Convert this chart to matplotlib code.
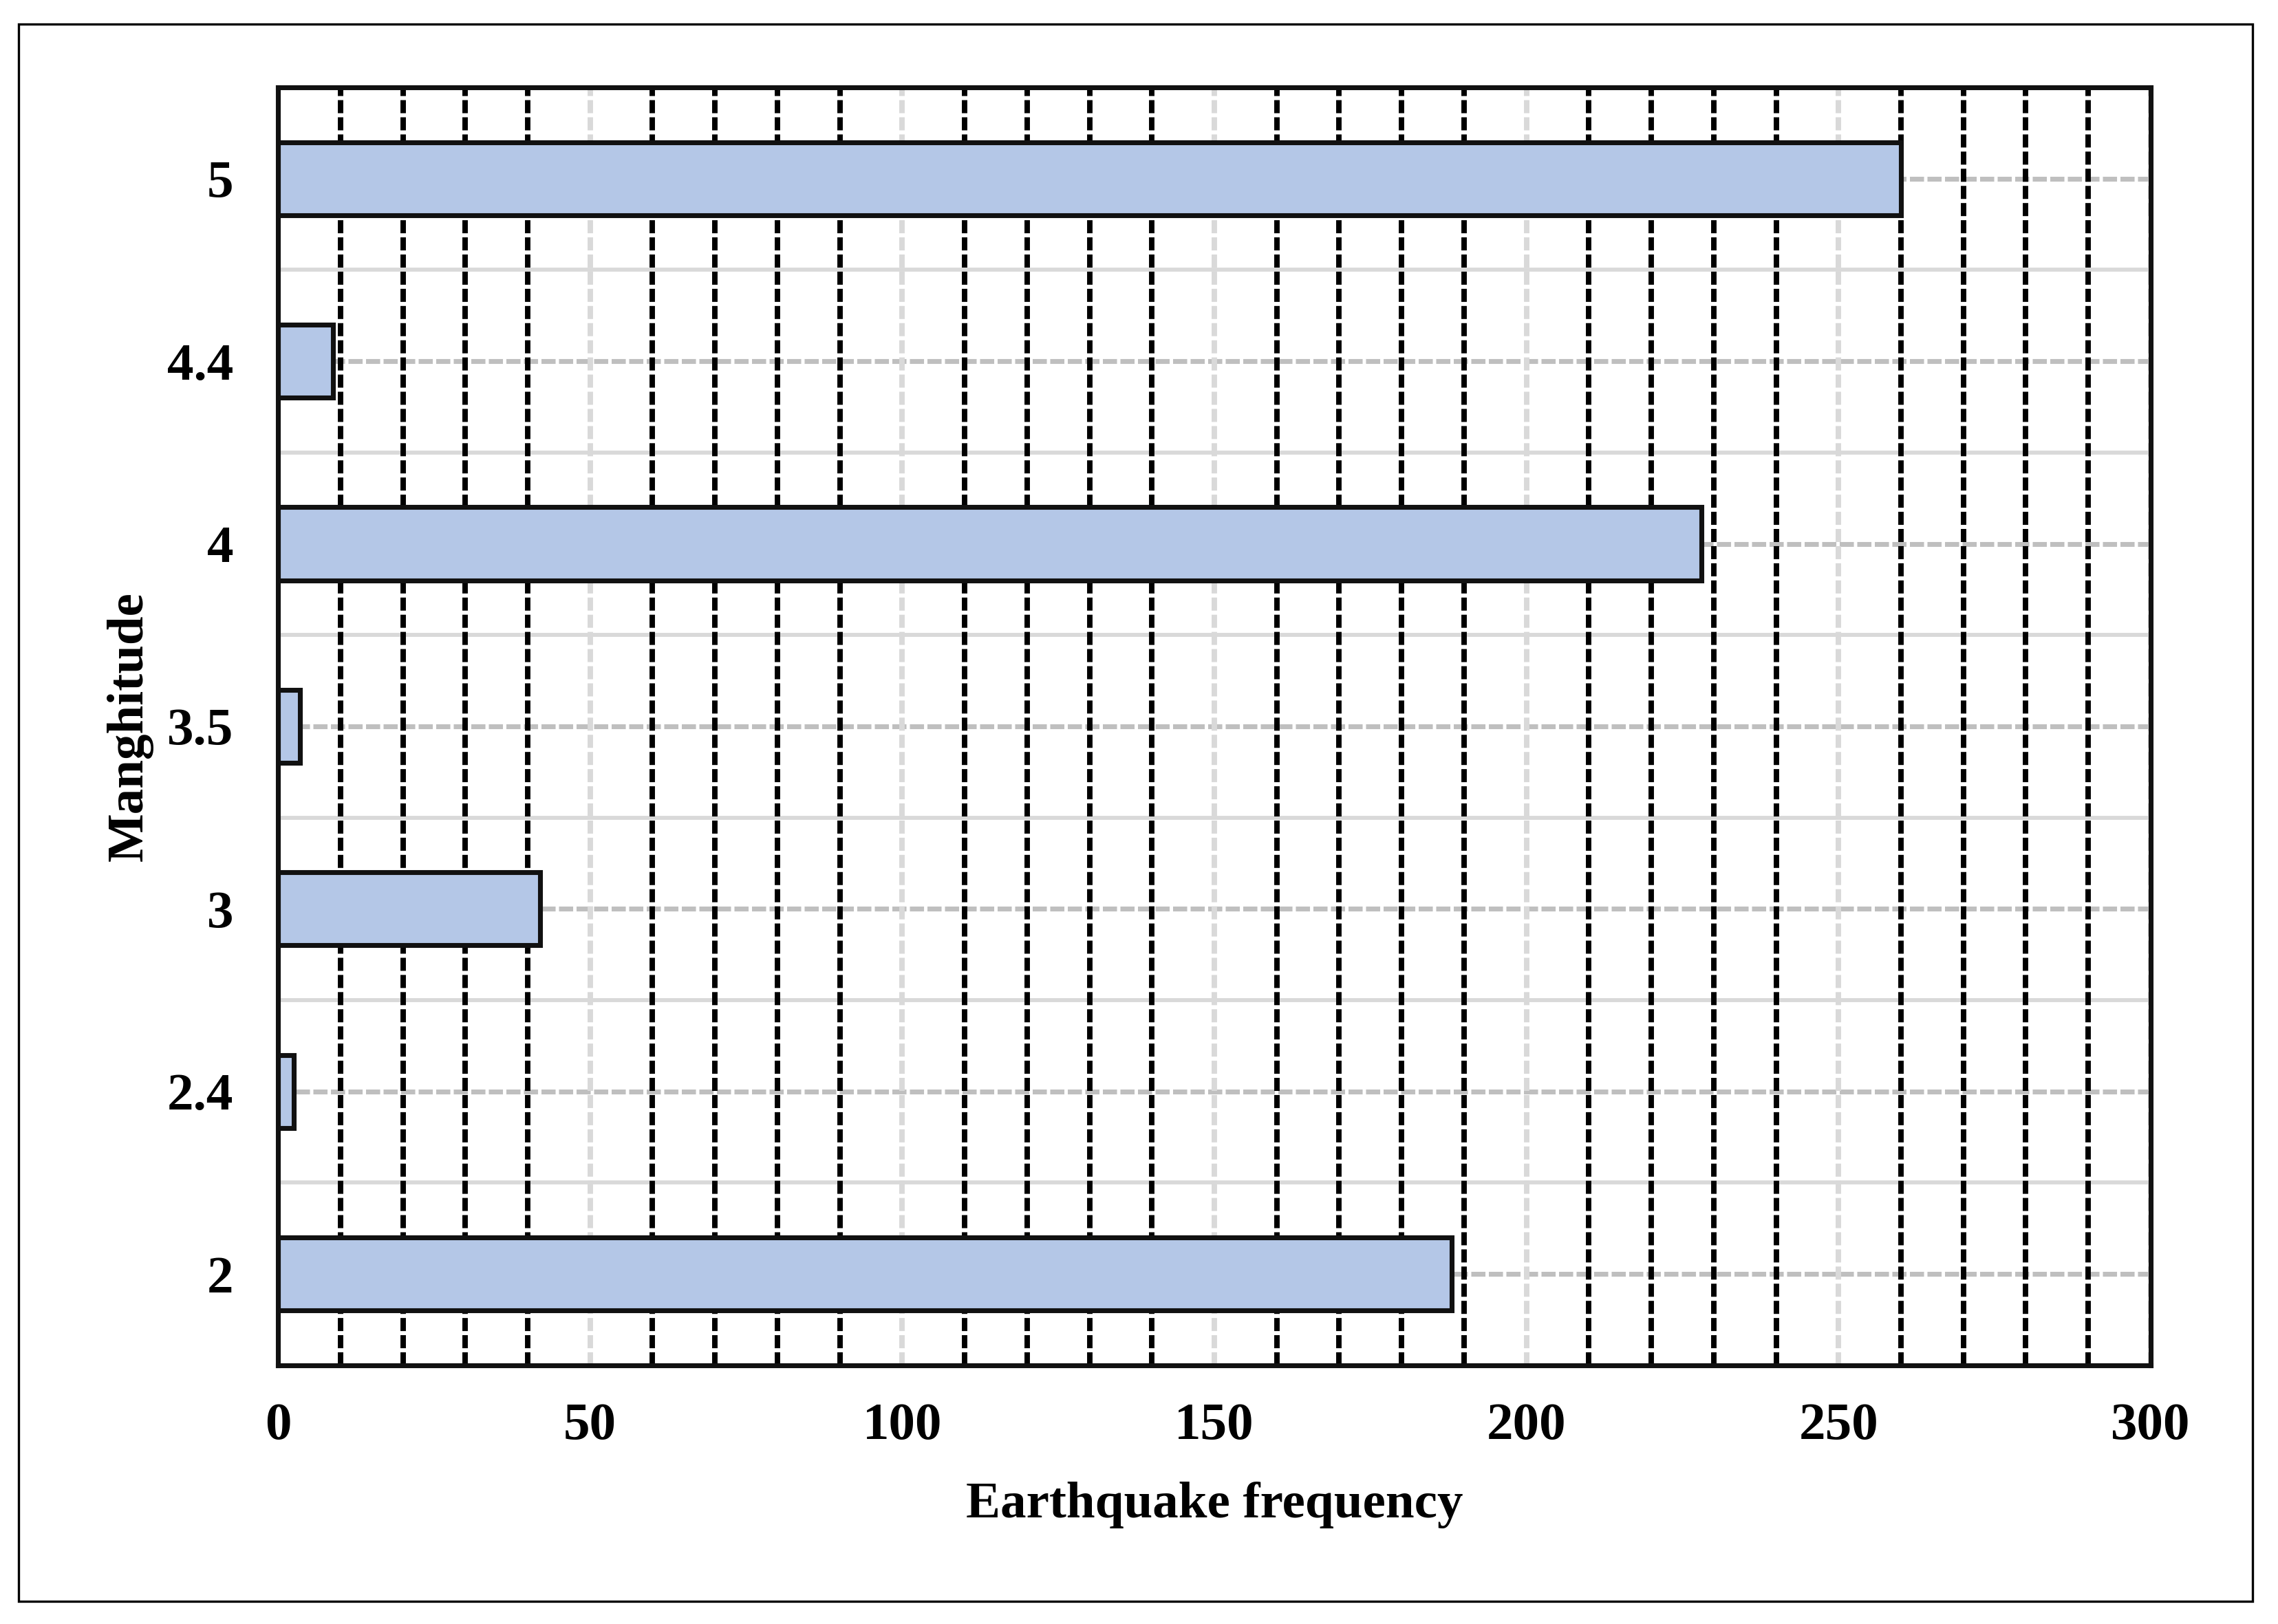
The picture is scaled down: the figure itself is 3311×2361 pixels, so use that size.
#imports
import matplotlib
matplotlib.use('Agg')
import matplotlib.pyplot as plt
from matplotlib.ticker import MultipleLocator, FixedLocator
from matplotlib.patches import Rectangle

# data
magnitudes = ['2', '2.4', '3', '3.5', '4', '4.4', '5']
frequency = [188, 2.5, 42, 3.5, 228, 8.8, 260]

plt.rcParams['font.family'] = ['Liberation Serif', 'DejaVu Serif']
plt.rcParams['font.weight'] = 'bold'

fig = plt.figure(figsize=(11.04, 7.87), dpi=300)
ax = fig.add_axes([0.122, 0.1593, 0.8218, 0.7869])

# bars
pos = list(range(len(magnitudes)))
ax.barh(pos, frequency, height=0.4, color='#b4c7e7', edgecolor='#111111',
        linewidth=1.7, zorder=2)

ax.set_xlim(0, 300)
ax.set_ylim(-0.5, len(magnitudes) - 0.5)
ax.set_yticks(pos)
ax.set_yticklabels(magnitudes)
ax.xaxis.set_major_locator(MultipleLocator(50))
ax.xaxis.set_minor_locator(MultipleLocator(10))
ax.yaxis.set_minor_locator(FixedLocator([p + 0.5 for p in pos[:-1]]))

# grid lines
ax.set_axisbelow(True)
ax.grid(axis='x', which='major', color='#d9d9d9', linewidth=1.9, linestyle=(0, (2.4, 0.75)))
ax.grid(axis='x', which='minor', color='black', linewidth=1.9, linestyle=(0, (2.4, 0.75)))
ax.grid(axis='y', which='major', color='#bfbfbf', linewidth=1.7, linestyle=(0, (2.9, 0.7)))
ax.grid(axis='y', which='minor', color='#d9d9d9', linewidth=1.4, linestyle='-')
ax.yaxis.set_zorder(0.5)
ax.xaxis.set_zorder(0.6)

ax.tick_params(which='both', length=0)
ax.tick_params(axis='x', pad=13, labelsize=18.5)
ax.tick_params(axis='y', pad=15.5, labelsize=18.5)

for s in ax.spines.values():
    s.set_linewidth(1.7)
    s.set_color('#111111')

ax.set_xlabel('Earthquake frequency', fontsize=18, fontweight='bold', labelpad=11)
ax.set_ylabel('Manghitude', fontsize=18, fontweight='bold', labelpad=5)

# border round the whole figure
fig.patches.append(Rectangle((0.00815, 0.014), 0.9804, 0.9712, transform=fig.transFigure,
                             fill=False, edgecolor='black', linewidth=0.8))

fig.savefig('out.png', dpi=300)
